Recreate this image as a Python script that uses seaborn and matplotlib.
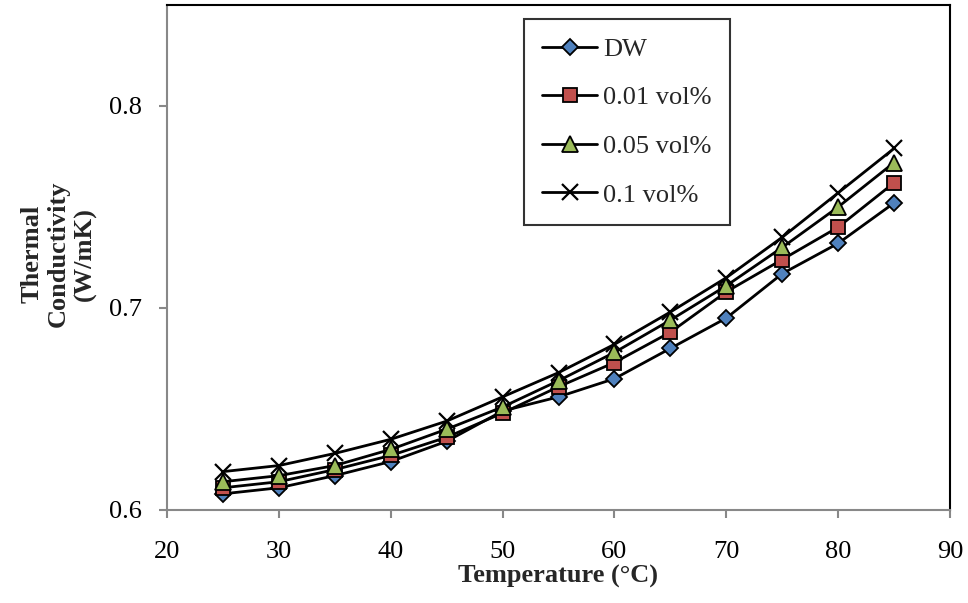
import matplotlib
matplotlib.use("Agg")
import matplotlib.pyplot as plt
import seaborn as sns
import pandas as pd

temperature = [25, 30, 35, 40, 45, 50, 55, 60, 65, 70, 75, 80, 85]
dw      = [0.608, 0.611, 0.617, 0.624, 0.634, 0.649, 0.656, 0.665, 0.680, 0.695, 0.717, 0.732, 0.752]
vol001  = [0.611, 0.614, 0.620, 0.627, 0.636, 0.648, 0.661, 0.673, 0.688, 0.708, 0.724, 0.740, 0.762]
vol005  = [0.614, 0.617, 0.622, 0.630, 0.640, 0.651, 0.664, 0.678, 0.694, 0.711, 0.730, 0.750, 0.772]
vol01   = [0.619, 0.622, 0.628, 0.635, 0.644, 0.656, 0.668, 0.682, 0.698, 0.715, 0.735, 0.757, 0.779]
labels = ["DW", "0.01 vol%", "0.05 vol%", "0.1 vol%"]

sns.set_style("white")
plt.rcParams['font.family'] = ['Liberation Serif', 'DejaVu Serif']

fig = plt.figure(figsize=(9.68, 6.03), dpi=100)
ax = fig.add_axes([167/968, 1 - 510/603, (950 - 167)/968, (510 - 5)/603])

styles = [
    dict(marker='D', markerfacecolor='#4F81BD', markersize=8.5, markeredgewidth=1.3),
    dict(marker='s', markerfacecolor='#C0504D', markersize=10, markeredgewidth=1.3),
    dict(marker='^', markerfacecolor='#9BBB59', markersize=11, markeredgewidth=1.3),
    dict(marker='x', markerfacecolor='black', markersize=11, markeredgewidth=1.6),
]
series = [dw, vol001, vol005, vol01]
for vals, lab, st in zip(series, labels, styles):
    df = pd.DataFrame({"T": temperature, "k": vals})
    sns.lineplot(data=df, x="T", y="k", ax=ax, color='black', linewidth=2,
                 markeredgecolor='black', label=lab, **st)

ax.set_xlim(20, 90)
ax.set_ylim(0.6, 0.85)
ax.set_xticks(range(20, 91, 10))
ax.set_yticks([0.6, 0.7, 0.8])
ax.set_yticklabels(["0.6", "0.7", "0.8"])
ax.tick_params(axis='both', which='major', labelsize=19, direction='out', length=6,
               width=1.5, color='#888888', left=True, bottom=True, labelcolor='black')
ax.tick_params(axis='x', pad=16)
ax.tick_params(axis='y', pad=12)
for s in ['left', 'bottom']:
    ax.spines[s].set_color('#888888')
    ax.spines[s].set_linewidth(1.5)
for s in ['top', 'right']:
    ax.spines[s].set_color('black')
    ax.spines[s].set_linewidth(1.5)

ax.set_xlabel("Temperature (°C)", fontsize=19, fontweight='bold', labelpad=2)
ax.set_ylabel("Thermal\nConductivity\n(W/mK)", fontsize=19, fontweight='bold',
              linespacing=1.2)
ax.yaxis.set_label_coords((97 - 167) / 783, (510 - 254) / 505)

leg = ax.legend(loc='upper left', bbox_to_anchor=(524/968, 1 - 19/603),
                bbox_transform=fig.transFigure, borderaxespad=0, fontsize=19,
                frameon=True, fancybox=False, handlelength=2.05, handletextpad=0.25,
                labelspacing=0.95, borderpad=0.7)
leg.get_frame().set_edgecolor('black')
leg.get_frame().set_linewidth(1.5)

fig.savefig("out.png", dpi=100)
